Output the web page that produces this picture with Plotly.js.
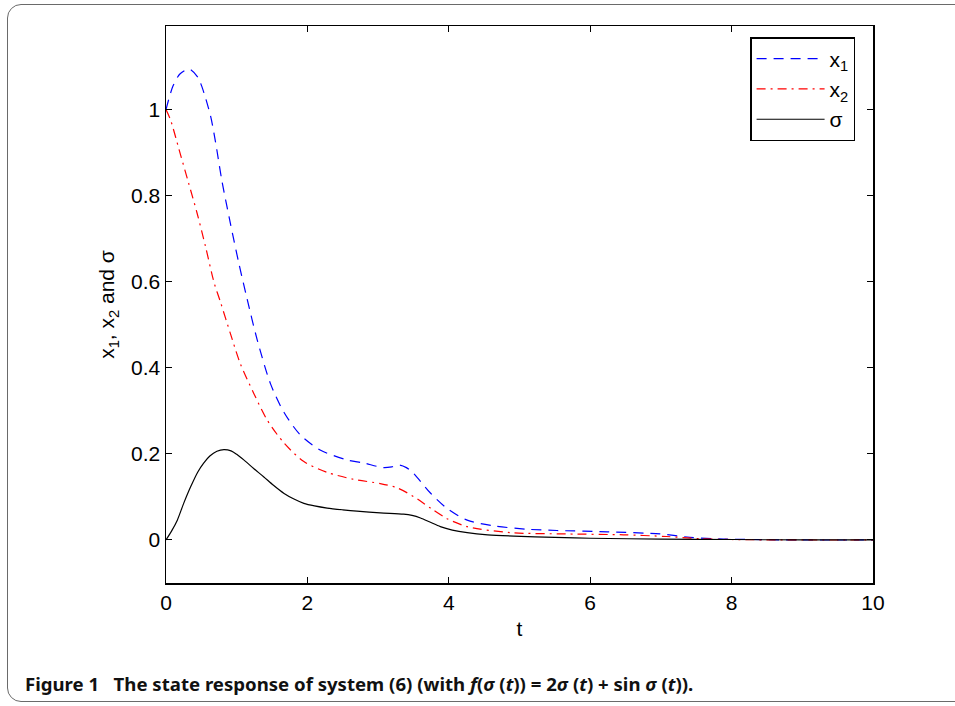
<!DOCTYPE html>
<html>
<head>
<meta charset="utf-8">
<script src="https://cdn.plot.ly/plotly-3.0.1.min.js"></script>
<style>
  html, body { margin: 0; padding: 0; background: #ffffff; }
  #wrap { position: relative; width: 955px; height: 706px; overflow: hidden; }
  #frame { position: absolute; left: 7px; top: 4px; width: 980px; height: 698px;
           border: 1.3px solid #6a6a6a; border-radius: 14px; box-sizing: border-box; pointer-events: none; }
  #chart { position: absolute; left: 0; top: 0; width: 955px; height: 706px; }
</style>
</head>
<body>
<div id="wrap">
  <div id="frame"></div>
  <div id="chart"></div>
</div>
<script>
// Values
const tX1 = [0, 0.1, 0.2, 0.33, 0.45, 0.51, 0.63, 0.70, 0.79, 0.91, 1.03, 1.14, 1.29, 1.48, 1.67, 1.90, 2.18, 2.56, 2.79, 3.08, 3.20, 3.30, 3.40, 3.50, 3.74, 3.97, 4.26, 4.63, 5.1, 5.53, 6.24, 6.99, 7.41, 7.88, 8.3, 9, 10];
const x1 = [1.0, 1.055, 1.083, 1.094, 1.075, 1.052, 0.985, 0.925, 0.835, 0.736, 0.643, 0.565, 0.465, 0.362, 0.296, 0.244, 0.209, 0.186, 0.179, 0.168, 0.170, 0.174, 0.168, 0.155, 0.109, 0.074, 0.046, 0.033, 0.025, 0.022, 0.019, 0.014, 0.006, 0.002, 0.001, 0.0, 0.0];

const tX2 = [0, 0.064, 0.2, 0.32, 0.44, 0.56, 0.68, 0.77, 0.91, 1.05, 1.24, 1.43, 1.67, 1.95, 2.28, 2.65, 3.03, 3.27, 3.5, 3.74, 3.97, 4.26, 4.87, 5.67, 6.47, 7.08, 7.55, 8.0, 9, 10];
const x2 = [1.0, 0.976, 0.898, 0.829, 0.759, 0.681, 0.598, 0.553, 0.480, 0.410, 0.341, 0.279, 0.225, 0.182, 0.157, 0.141, 0.131, 0.121, 0.101, 0.074, 0.050, 0.031, 0.017, 0.014, 0.012, 0.008, 0.003, 0.001, 0.0, 0.0];

const tSig = [0, 0.08, 0.16, 0.25, 0.35, 0.45, 0.53, 0.62, 0.72, 0.82, 0.92, 1.0, 1.10, 1.24, 1.38, 1.52, 1.67, 1.81, 1.95, 2.1, 2.28, 2.50, 2.70, 3.03, 3.36, 3.48, 3.6, 3.74, 3.88, 4.05, 4.26, 4.55, 4.92, 5.5, 6, 7, 8, 9, 10];
const sig = [0, 0.021, 0.046, 0.085, 0.124, 0.158, 0.178, 0.195, 0.206, 0.210, 0.207, 0.199, 0.186, 0.166, 0.147, 0.127, 0.108, 0.095, 0.085, 0.079, 0.074, 0.070, 0.067, 0.063, 0.060, 0.057, 0.051, 0.041, 0.031, 0.023, 0.017, 0.012, 0.009, 0.006, 0.004, 0.002, 0.001, 0.0, 0.0];

const xTicks = [0, 2, 4, 6, 8, 10];
const yTicks = [0, 0.2, 0.4, 0.6, 0.8, 1];

const tickFont = {family: 'Liberation Sans, Arial, sans-serif', size: 21, color: '#000'};

const traces = [
  {x: tX1, y: x1, type: 'scatter', mode: 'lines', name: 'x<sub>1</sub>',
   line: {color: '#0000ff', width: 1.2, dash: '10px,7px', shape: 'spline', smoothing: 0.8}},
  {x: tX2, y: x2, type: 'scatter', mode: 'lines', name: 'x<sub>2</sub>',
   line: {color: '#ff0000', width: 1.2, dash: '9px,5px,2px,5px', shape: 'spline', smoothing: 0.8}},
  {x: tSig, y: sig, type: 'scatter', mode: 'lines', name: 'σ',
   line: {color: '#000000', width: 1.2, shape: 'spline', smoothing: 0.8}}
];

const PL = 165.5, PR = 873, PT = 26, PB = 583;
const pw = PR - PL, ph = PB - PT;
function px2x(p) { return (p - PL) / pw; }
function py2y(p) { return (PB - p) / ph; }

const layout = {
  width: 955, height: 706,
  margin: {l: PL, r: 955 - PR, t: PT, b: 706 - PB, pad: 0},
  paper_bgcolor: 'rgba(0,0,0,0)',
  plot_bgcolor: '#ffffff',
  font: tickFont,
  showlegend: true,
  xaxis: {
    range: [0, 10], tickvals: xTicks, ticktext: xTicks.map(String),
    ticks: 'inside', ticklen: 6, tickwidth: 1, tickcolor: '#000',
    showline: true, linecolor: '#000', linewidth: 1.5, mirror: 'ticks',
    showgrid: false, zeroline: false, tickfont: tickFont,
    title: {text: 't', font: tickFont, standoff: 8}
  },
  yaxis: {
    range: [-0.1, 1.194], tickvals: yTicks, ticktext: yTicks.map(String),
    ticks: 'inside', ticklen: 6, tickwidth: 1, tickcolor: '#000',
    showline: true, linecolor: '#000', linewidth: 1.5, mirror: 'ticks',
    showgrid: false, zeroline: false, tickfont: tickFont,
    title: {text: 'x<sub>1</sub>, x<sub>2</sub> and σ', font: tickFont, standoff: 10}
  },
  legend: {
    x: px2x(750), y: py2y(37), xanchor: 'left', yanchor: 'top',
    bgcolor: '#ffffff', bordercolor: '#000', borderwidth: 1.5,
    font: tickFont, itemwidth: 68, tracegroupgap: 0
  },
  annotations: [{
    xref: 'paper', yref: 'paper', x: px2x(22), y: py2y(683),
    xanchor: 'left', yanchor: 'middle', showarrow: false,
    text: '<b>Figure 1   The state response of system (6) (with <i>f</i>(<i>σ</i> (<i>t</i>)) = 2<i>σ</i> (<i>t</i>) + sin <i>σ</i> (<i>t</i>)).</b>',
    font: {family: 'Noto Sans, Open Sans, sans-serif', size: 18.6, color: '#111'}
  }]
};

Plotly.newPlot('chart', traces, layout, {displayModeBar: false, staticPlot: true});
</script>
</body>
</html>
